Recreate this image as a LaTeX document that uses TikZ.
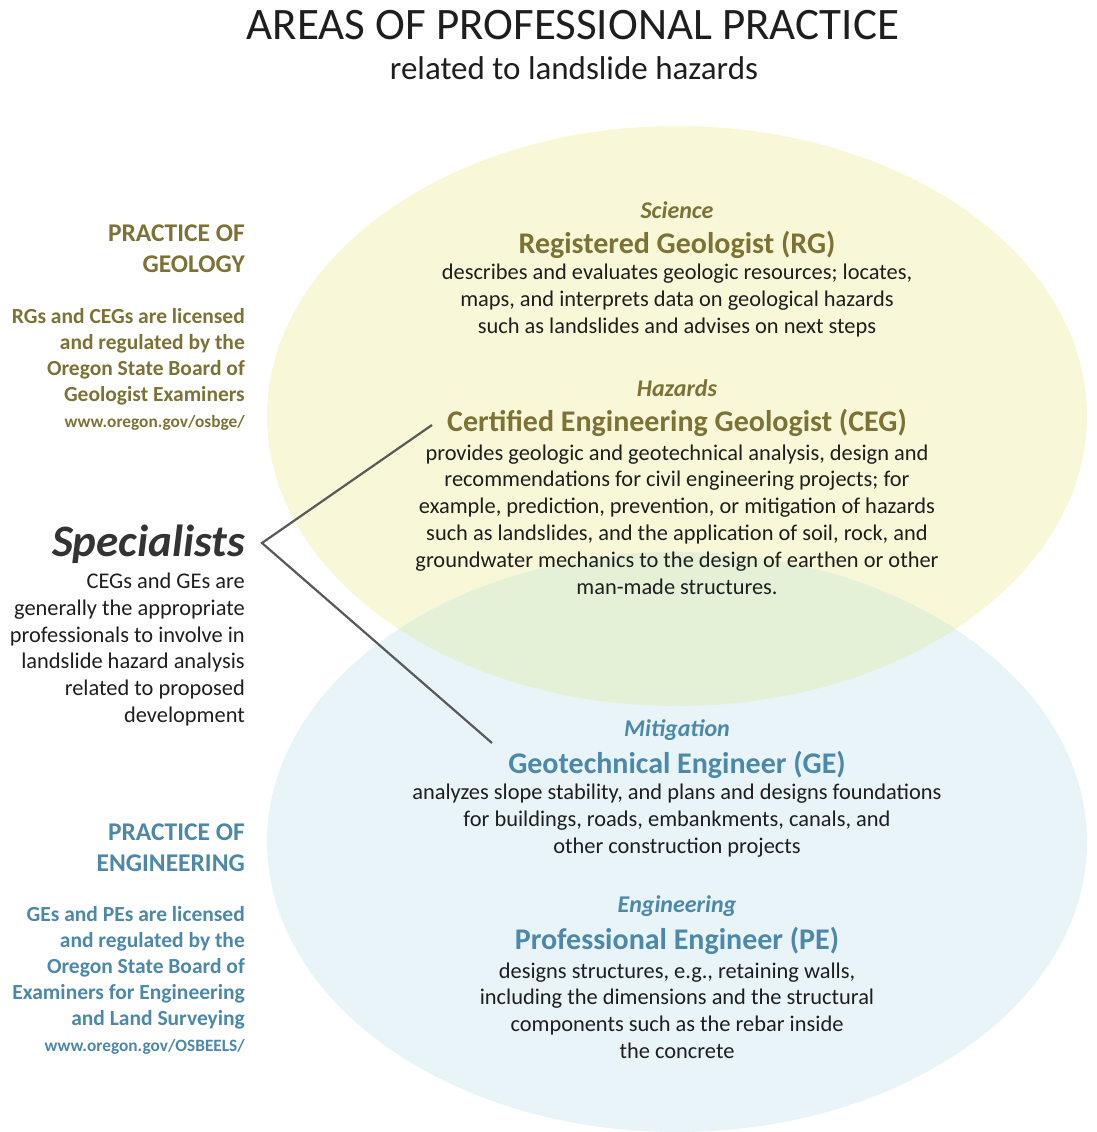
\documentclass[tikz,border=0pt]{standalone}
\usepackage{fontspec}
\setmainfont{Carlito}
\usetikzlibrary{positioning}
\definecolor{geoText}{HTML}{7D7236}
\definecolor{engText}{HTML}{4C88A9}
\definecolor{geoFill}{HTML}{F8F8D8}
\definecolor{engFill}{HTML}{E8F4F7}
\definecolor{bothFill}{HTML}{E5F1D7}
\definecolor{leadLine}{HTML}{595959}
\definecolor{darkText}{HTML}{1E1E1E}
\tikzset{
  txt/.style={inner sep=0pt, text=darkText, yshift=-1.5pt},
  heading/.style={txt, font=\fontsize{45}{50}\selectfont},
  subheading/.style={txt, font=\fontsize{33}{38}\selectfont},
  field/.style={txt, font=\fontsize{24}{28}\selectfont\bfseries\itshape},
  role/.style={txt, font=\fontsize{30}{34}\selectfont\bfseries},
  duties/.style={txt, align=center, font=\fontsize{22.4}{26.8}\selectfont},
  practice/.style={txt, anchor=east, align=right, font=\fontsize{25.5}{31}\selectfont\bfseries},
  board/.style={txt, anchor=east, align=right, font=\fontsize{21.5}{26}\selectfont\bfseries},
  webLink/.style={txt, anchor=east, font=\fontsize{17.3}{20}\selectfont\bfseries},
  leader/.style={draw=leadLine, line width=2.2pt}
}
\begin{document}
\begin{tikzpicture}[x=1pt, y=-1pt]
  \useasboundingbox (0,0) rectangle (1096,1132);
  % the two areas and their overlap
  \fill[geoFill] (677,416) ellipse [x radius=410pt, y radius=290pt];
  \fill[engFill] (677,842) ellipse [x radius=410pt, y radius=290pt];
  \begin{scope}
    \clip (677,416) ellipse [x radius=410pt, y radius=290pt];
    \fill[bothFill] (677,842) ellipse [x radius=410pt, y radius=290pt];
  \end{scope}

  \node[heading] (title) at (573,24) {AREAS OF PROFESSIONAL PRACTICE};
  \node[subheading] (subtitle) at (574,67) {related to landslide hazards};

  % geology
  \node[field, text=geoText] (science) at (677,209) {Science};
  \node[role, text=geoText] (rg) at (677,243) {Registered Geologist (RG)};
  \node[duties] (rgText) at (677,299) {describes and evaluates geologic resources; locates,\\
    maps, and interprets data on geological hazards\\
    such as landslides and advises on next steps};
  \node[field, text=geoText] (hazards) at (677,387) {Hazards};
  \node[role, text=geoText] (ceg) at (677,421) {Certified Engineering Geologist (CEG)};
  \node[duties] (cegText) at (677,518) {provides geologic and geotechnical analysis, design and\\
    recommendations for civil engineering projects; for\\
    example, prediction, prevention, or mitigation of hazards\\
    such as landslides, and the application of soil, rock, and\\
    groundwater mechanics to the design of earthen or other\\
    man-made structures.};

  % engineering
  \node[field, text=engText] (mitigation) at (677,729) {Mitigation};
  \node[role, text=engText] (ge) at (677,763) {Geotechnical Engineer (GE)};
  \node[duties] (geText) at (677,819) {analyzes slope stability, and plans and designs foundations\\
    for buildings, roads, embankments, canals, and\\
    other construction projects};
  \node[field, text=engText] (engineering) at (677,905) {Engineering};
  \node[role, text=engText] (pe) at (677,939) {Professional Engineer (PE)};
  \node[duties] (peText) at (677,1009) {designs structures, e.g., retaining walls,\\
    including the dimensions and the structural\\
    components such as the rebar inside\\
    the concrete};

  % left column
  \node[practice, text=geoText] (geoPractice) at (245,247) {PRACTICE OF\\GEOLOGY};
  \node[board, text=geoText] (geoBoard) at (245,355) {RGs and CEGs are licensed\\
    and regulated by the\\Oregon State Board of\\Geologist Examiners};
  \node[webLink, text=geoText] (geoLink) at (245,421) {www.oregon.gov/osbge/};

  \node[txt, anchor=east, text=black!80, font=\fontsize{45}{50}\selectfont\bfseries\itshape]
    (specialists) at (245,543) {Specialists};
  \node[txt, anchor=east, align=right, font=\fontsize{22.4}{26.8}\selectfont]
    (specialistsText) at (245,648) {CEGs and GEs are\\generally the appropriate\\
    professionals to involve in\\landslide hazard analysis\\related to proposed\\development};

  \node[practice, text=engText] (engPractice) at (245,846) {PRACTICE OF\\ENGINEERING};
  \node[board, text=engText] (engBoard) at (245,966) {GEs and PEs are licensed\\
    and regulated by the\\Oregon State Board of\\Examiners for Engineering\\and Land Surveying};
  \node[webLink, text=engText] (engLink) at (245,1045) {www.oregon.gov/OSBEELS/};

  % leaders from the specialists
  \coordinate (apex) at (262,543);
  \coordinate (cegTip) at (432,425);
  \coordinate (geTip) at (492,743);
  \draw[leader] (cegTip) -- (apex) -- (geTip);
\end{tikzpicture}
\end{document}
